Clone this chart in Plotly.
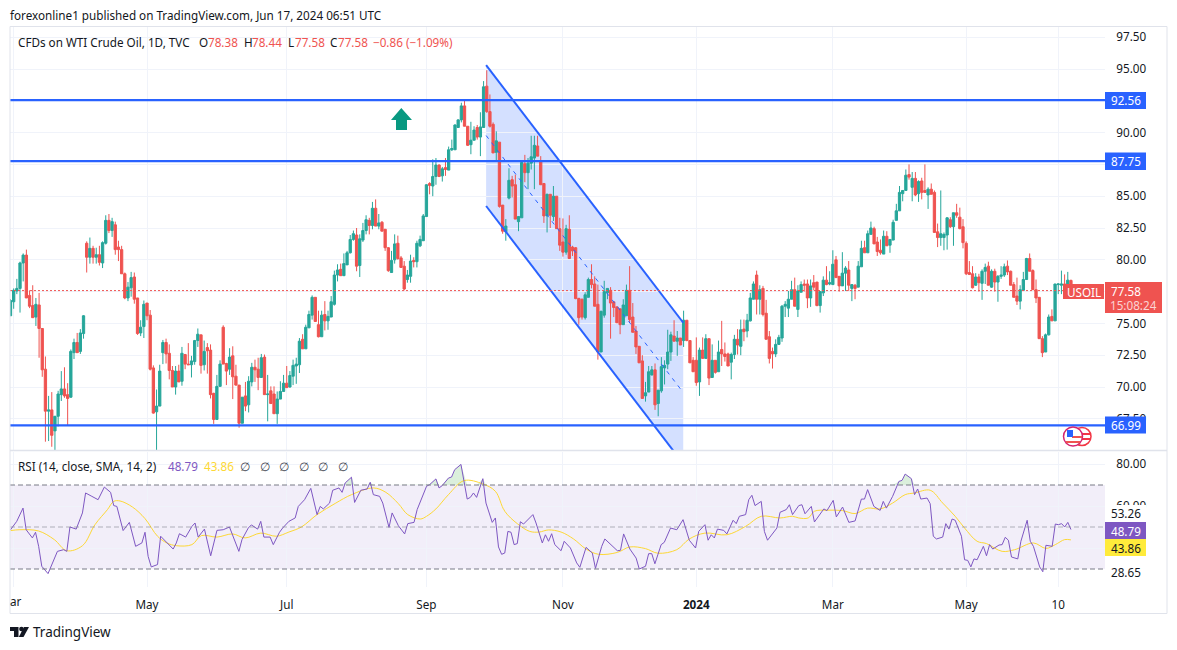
"""USOIL daily candles with channel drawing and RSI pane, TradingView look."""
import plotly.graph_objects as go
from plotly.subplots import make_subplots

W, H = 1177, 650
FONT = "Noto Sans"
INK = "#131722"
RED = "#ef5350"
GREEN = "#26a69a"
BLUE = "#2962ff"
PURPLE = "#7e57c2"
YELLOW = "#ffeb3b"
GRID = "#f0f3fa"
BORDER = "#e0e3eb"

opens = [
    75.6,76.7,77.55,77.75,79.75,80.37,77.2,76.4,75.5,76.45,
    74.6,71.4,68.1,68.2,66.55,67.7,69.4,69.85,69.4,69.2,
    72.7,73.5,72.8,74.2,81.3,80.2,80.9,80.2,80.4,79.75,
    81.3,83.1,82.3,82.75,81,80.8,78.9,77,77.8,78.65,
    77,74.25,74.75,76.6,75.65,71.5,68.05,68.5,72.7,73.5,
    72.65,71.3,70,71.25,70.45,72.55,71.8,71.75,72,73.65,
    74.1,71.75,73.1,72.9,69.5,67.45,70.05,74.7,71.85,71.4,
    72.45,70.85,70.15,67.15,69.3,68.6,70.4,71.55,71.4,70.75,
    72.35,69.4,69.7,69.45,67.9,69.05,69.65,70.3,70,70.85,
    71.65,71.75,73.75,73,74.65,75.65,77.05,74.9,73.95,75.7,
    75.2,75.5,76.5,78.8,79.25,78.75,79.6,80.55,81.6,81.95,
    79.55,81.55,82.3,83.1,82.7,84.05,82.65,82.95,82.4,80.95,
    79,80,81.3,80.15,79.5,78.45,78.7,79.95,79.85,81.1,
    81.5,83.4,86,85.8,86.55,87.45,86.6,87.25,87.05,88.65,
    88.65,90.4,91,92.1,90.5,89.05,89.4,90.4,89.65,90.4,
    93.65,91.65,90.65,88.45,89.25,84.3,82.2,84.85,86.3,85.9,
    83,83.3,87.55,86.85,87.6,88,88.95,87.8,86,83.45,
    85.15,83.4,85,82.45,81.4,80.6,82.4,81,80.95,76.97,
    76.9,75.45,77.05,78.45,78.1,76.5,72.75,75.65,77.4,77.6,
    76.7,76.3,76.15,74.9,75.6,77.6,75.5,74.4,73.2,72.05,
    69.3,69.6,70.95,71.35,68.7,69.7,71.5,71.8,72.75,74,
    73.6,73.85,73.65,75.25,73.65,72.1,72.1,70.4,72.9,72.25,
    73.8,70.75,72.1,71.2,72.95,72.6,72.6,71.95,72.55,73.75,
    73.2,74.55,74.4,75.2,76.9,78.8,76.9,77.75,75.8,73.95,
    72.8,72.6,73.35,73.85,76.35,76.2,76.9,77.65,76.1,77.45,
    78.1,78.1,77,78.2,78.25,76.4,77.4,78.4,78.1,78.05,
    80,78.7,77.95,78.95,79.2,77.75,78,77.85,79.45,80.95,
    80.55,82,82.45,81.4,80.75,80.45,81.85,81.15,81.55,83.1,
    83.85,85.2,85.45,86.7,85.7,86.4,85.2,86.2,85.45,85.1,
    85.55,85.3,82.2,81.75,81.75,81.95,83.15,82.6,83.7,83.35,
    82.6,81.3,79,78.9,78,78.65,78.15,79.1,79.5,77.85,
    79.1,78.25,78.7,78.8,79.5,79.1,78.05,77.15,76.75,77.6,
    78.45,80.1,79.15,77.65,77.05,73.8,72.75,74.1,75.55,75.2,
    78.05,78,78.1,78,78.38,
]
highs = [
    76.9,77.75,78.5,79.85,80.5,80.8,77.6,78,77,77.4,
    74.6,72.4,69.3,69.6,67.7,69.7,71.25,71.55,70.3,72.95,
    73.8,74.25,74.55,75.65,81.45,81.75,81.1,80.95,81.1,81.45,
    83.5,83.6,83.3,83,81.5,81.1,79,78.25,79.05,79,
    77,75.25,76.8,76.6,76.05,71.7,69.8,71.75,73.7,73.8,
    73.35,71.65,71.65,71.75,73.15,72.6,73.45,72.45,73.7,74.6,
    74.1,73.65,73.45,73.35,69.55,70.95,72.1,74.85,71.9,73.05,
    73.2,71.75,70.15,69.2,70.4,70.85,71.9,72.15,72.3,72.6,
    72.55,70.95,70.05,70.05,69.65,70.45,70.95,71.65,71.25,72.15,
    72.3,73.85,74.15,74.9,76,77.2,77.05,76,76,76.75,
    76,77.15,79.15,79.65,79.7,80.5,80.7,81.95,82.3,82.5,
    82,82.9,83.5,83.3,84.55,84.75,83.6,83.05,82.4,81,
    80.7,82,81.9,80.3,79.9,79.2,80.4,80.2,81.5,81.9,
    83.6,85.95,86.1,87.9,88,87.5,87.3,88,88.9,89.45,
    90.65,91.05,92.35,92.55,90.5,90.85,90.5,90.6,91.6,94.05,
    94.9,93,90.8,90.1,89.25,84.3,83.2,87.2,86.6,86.7,
    83.4,87.7,88.25,88,89.75,89.75,89.75,88.15,86,85.2,
    85.15,85.8,85,83.3,83.25,82.75,83.5,81.1,81,77,
    76.95,77.45,78.6,79.65,78.7,78.05,76,78.35,77.75,77.85,
    76.7,76.3,76.15,76.9,78.05,79.5,76.6,74.8,73.2,72.5,
    70.4,71.65,71.65,71.85,69.75,72.35,72.1,74.5,74.35,75.25,
    74.4,73.85,76,75.25,73.65,72.35,73.9,73.1,73.9,74.15,
    73.8,73.35,72.1,73.65,75.2,73.5,72.7,72.7,74.1,74.55,
    75.3,75.3,75.75,77.4,78.3,79.15,78,77.95,76.85,74.4,
    73.1,73.75,74.1,76.45,76.75,77.55,78.35,78.6,78,78.3,
    78.45,78.45,78.45,78.8,78.25,77.5,78.7,79.5,79.1,80.75,
    80.3,78.7,80.6,79.5,79.9,78.05,78.1,79.9,81.5,81.5,
    82.3,83,82.6,81.8,81.6,82.3,82.25,81.6,83.15,84.4,
    85.8,85.45,87.1,87.5,86.9,86.9,86.25,86.45,87.5,85.7,
    86,85.45,82.85,85.45,82.15,83.35,83.35,83.7,84.4,84.1,
    83.2,81.45,79.9,79.5,78.95,78.9,79.25,79.7,79.85,79.25,
    79.3,78.8,79.5,79.7,79.95,79.15,78.25,78.6,78,79.05,
    80.15,80.5,79.25,78.45,77.05,74,74.2,75.7,76.1,78.1,
    78.15,79.15,78.85,79.05,78.44,
]
lows = [
    75.6,76.15,77.3,75.85,78.3,77,76.2,75.45,74.8,72.3,
    70.8,65.7,65.75,65.3,65,66.9,68.9,69.15,66.95,69.15,
    72.2,72.7,72.6,73.8,79,79.7,79.7,79.7,79.55,79.35,
    81.2,82.1,81.8,80.4,79.9,78.9,76.9,76.75,77.1,76.55,
    74.1,74,73.85,75.25,71.3,67.9,65,68.5,71.8,71.85,
    70.6,70,69.4,70.4,70.1,71.4,71.75,70.75,71.75,73.15,
    71.05,71.3,71.05,69.1,67.1,67.45,70.05,71.8,70.15,70.95,
    69.05,70.1,66.8,67.15,68.1,68,70.05,70.4,69.75,70.75,
    69.4,67.3,68.7,67.9,67.1,69.05,69.65,69.95,69.95,70.15,
    70.25,71.1,73,73,74.65,75.3,75.15,73.9,73.95,74.45,
    74.5,75.5,76.4,78.3,78.75,78.75,79.6,80.5,81.5,79.1,
    78.65,81.4,82,82,82.4,82.65,82.4,82.25,80.7,79.05,
    79,79.7,80,79.4,77.6,78.2,78.2,79.4,79.4,81,
    81.5,83.4,85.15,85,85.9,86.5,86.15,86.6,87.05,88.55,
    88.65,90.4,90.8,90.5,88.95,88.3,89.4,89.45,88.15,90.4,
    91.55,90.4,88.4,87.75,84.1,82.05,81.5,84.75,84.9,83.2,
    82.25,83.3,86.1,85.55,87.1,85.55,88.15,85.9,82.9,82.15,
    82.5,83.05,82.45,80.7,80.25,80.4,80.1,80.3,76.9,74.9,
    75.3,75.3,77.05,77.75,76.35,72.15,72.75,75.45,76.9,73.8,
    75.5,75.05,74.15,74.9,75.6,75.05,74.3,72.6,71.9,69.1,
    68.85,69.6,70.9,68.2,67.7,69.55,70.2,71.4,72.05,73.6,
    72.45,73.3,73.15,73.6,71.9,71.2,70.1,69.3,72.25,72.25,
    70.15,70.75,71.05,71.2,71.65,72,71.65,70.6,72.2,72.55,
    72.5,73.6,73.9,75.15,76.9,75.7,75.7,75.55,73.75,71.85,
    71.45,72.35,73.3,73.55,75.5,75.5,76.9,76.35,75.5,77.45,
    77.5,76.2,76.3,77.6,76.35,75.85,77.15,78,78,78.05,
    78.6,77.5,77.95,77.55,77.55,76.75,76.9,77.85,79.45,80.55,
    80.55,82,81.25,80.3,80.4,80.45,81.1,80.55,81.55,83.1,
    83.85,84.6,85.45,86.3,84.6,85,84.55,84.75,85.3,84,
    85.15,82.15,81,81.1,80.75,80.8,82.5,81.1,83.3,82.4,
    80.9,78.8,78.8,77.75,77.95,77.5,76.85,78.1,78,77.8,
    77.5,76.7,78.5,78.65,78.8,78,77.05,76.45,76.1,77.6,
    78.45,79.1,77.65,76.6,73.8,72.35,72.75,74.05,75.2,75.2,
    77.3,77.3,77.9,77.95,77.58,
]
closes = [
    76.8,77.6,77.75,79.75,80.37,77,76.35,75.45,76.5,74.6,
    71.35,68.1,68.2,66.2,67.7,69.45,69.85,69.3,69.1,72.8,
    73.5,72.7,74.25,75.6,80.2,80.9,80.2,80.4,79.8,81.35,
    83.1,82.3,83,80.8,80.8,78.9,77,77.85,78.6,76.9,
    74.2,74.7,76.5,75.6,71.4,67.95,68.5,71.25,73.5,72.6,
    71.3,70,71.25,70.4,72.65,71.8,71.75,72.05,73.65,74.15,
    71.7,72.8,72.85,69.4,67.45,70.05,71.8,71.8,71.25,72.35,
    70.8,70.15,67.15,69.2,68.5,70.45,71.55,71.35,70.75,72.3,
    69.4,69.45,68.7,67.9,69.05,69.65,70.3,69.95,70.9,71.7,
    71.8,73.6,73,74.7,75.7,77.05,75.15,73.95,75.65,75.2,
    75.55,76.7,78.8,79.2,78.75,79.7,80.55,81.6,82.05,79.5,
    81.65,82.3,83.15,82.7,84.05,82.65,82.9,82.25,80.95,79.15,
    79.95,81.25,80.1,79.4,77.7,78.8,79.9,79.85,81.3,81.6,
    83.45,85.9,85.85,86.55,87.45,86.55,87.15,87.1,88.65,88.75,
    90.6,91,92.1,90.5,89,89.4,90.2,89.65,90.45,93.6,
    91.65,90.5,88.4,89.35,84.2,82.25,82.65,86.25,85.8,83.2,
    83.4,87.65,86.85,87.6,88.1,89,88.15,85.9,83.45,85.15,
    83.5,85,82.45,81.15,80.6,82.45,80.1,80.7,76.95,75.45,
    75.5,77.25,78.45,78.05,76.35,72.75,75.95,77.5,77.75,76.6,
    76.25,75.05,74.9,76.45,77.6,75.3,74.3,73.15,71.9,69.1,
    69.55,71.2,71.35,68.6,69.75,71.6,71.7,72.75,74.1,73.6,
    73.85,73.3,75.25,73.65,71.9,71.2,70.35,72.9,72.25,73.8,
    70.7,72.1,71.15,72.75,72.6,72.4,71.65,72.55,73.75,73.3,
    74.5,74.35,75.25,77,78.1,76.9,77.65,75.7,73.75,72.25,
    72.6,73.35,73.9,76.35,76.5,76.9,77.65,76.35,77.55,78.05,
    78,77,77.95,77.85,76.4,77.5,78.4,78.05,78.2,79.65,
    78.6,77.95,78.95,79.35,78,78.05,77.75,79.5,80.9,80.55,
    82.05,82.5,81.25,80.65,80.55,81.85,81.1,81.6,82.95,83.85,
    85.3,85.45,86.65,86.5,86.4,85.1,86.15,85.3,85.3,85.55,
    85.15,82.15,81.75,82.05,82,83.3,82.6,83.7,83.5,82.45,
    81.35,78.9,78.85,77.8,78.65,78.2,79.1,79.4,78,79.1,
    78.25,78.7,78.8,79.45,79.05,78,77.05,76.75,77.65,78.45,
    80.1,79.1,77.65,77,73.8,72.7,74.1,75.5,75.2,78.1,
    78.1,78.1,78,78.4,77.58,
]

rsi_pos = [
    0,2,4,5,7,8,9,10,12,15,17,18,19,21,23,24,26,28,30,32,33,34,36,38,40,42,43,44,45,47,
    48,50,52,53,54,56,58,59,60,62,64,66,68,70,71,73,74,76,77,79,80,81,83,84,86,87,89,91,92,94,
    96,98,99,100,102,103,105,106,107,109,110,112,114,115,116,118,119,121,122,124,126,127,129,130,133,134,136,137,138,140,
    141,142,144,146,147,148,149,151,152,154,155,156,157,158,159,160,161,162,163,164,167,168,170,171,172,173,174,176,177,179,
    181,182,184,186,187,189,190,192,194,195,196,198,200,201,203,204,205,206,208,209,211,213,215,217,219,220,222,223,224,225,
    226,228,229,231,232,233,235,236,237,238,240,241,242,245,246,248,249,250,252,253,254,256,257,260,261,263,264,266,268,270,
    272,273,274,276,278,279,280,282,284,285,286,288,289,290,291,293,294,295,296,298,299,300,301,302,304,305,306,307,308,309,
    311,312,313,314,316,317,318,319,320,322,323,325,326,327,329,330,331,333,334,335,336,337,338,339,
]
rsi_values = [
    48.7,52.7,59.0,48.7,44.8,47.5,40.8,31.3,27.8,38.4,39.2,38.4,50,49,56.7,66.2,64.6,63,69,66.5,60.2,59.8,48.3,52.2,40.8,42.4,47.5,36,31,32.1,
    45.6,42.4,39.5,42.4,46.8,45.2,50.3,51.9,45.2,49,36.3,48.4,48.7,50,46.3,38.4,44,49.5,51,49,52.7,45.2,45.2,41.6,47.5,49.5,52.7,54.3,59.8,63,
    68.4,55.9,59.8,58.6,61.4,67.5,68.6,66.5,71,73.7,61.7,67.5,68.1,71.3,65.4,64.6,61.4,49.8,56.7,50.6,46.7,51.6,52.2,58.3,69.4,70.2,72.9,68.6,69.7,73.3,
    73.8,77.3,79.8,63.3,64.1,66.2,64.1,73,61.4,52.2,54.3,40.5,37,37.6,47.9,47.5,41.6,42.1,52.5,51.4,55.9,51.9,42.4,46.3,43.2,46.8,41.6,38.7,43.2,40,
    32.9,30.8,40.3,37.6,30.3,40.8,44.3,41.6,38.7,38.9,46.7,39.5,35.2,30,31.3,37.3,37.3,32.5,41.6,42.7,49.5,48.7,53.5,43.7,40,47.9,51.1,43.7,46.3,44.8,
    49,48.4,46.7,53.2,51.6,55.1,55.9,63,65.1,60.2,62.2,47.9,43.7,49.5,57,58.3,60.6,55.9,60.2,60.6,56.3,59.8,52.4,58.6,57.8,62.7,54.8,59.5,52.2,52.9,
    63.3,63.3,67.8,59.8,57.9,62.2,59,64.6,71.7,72.2,75.2,73,65.4,68.1,63.3,63.8,61.1,45.6,44.3,45.2,51.6,49,53.8,53.2,45.6,34.4,34.1,31,34.8,34.4,
    40.8,36.3,41.6,39.5,41.4,41.6,45.1,43.7,35.7,34.8,43.2,53.2,43.2,40.8,31,28.7,41.3,40.8,51.4,51.1,51.6,50,52.2,48.79,
]
sma_pos = [
    0,3,9,14,18,23,27,31,33,35,39,43,47,50,53,58,61,66,71,75,80,85,89,93,98,104,109,116,120,124,
    127,131,133,136,140,145,151,155,158,162,166,169,172,176,180,184,188,194,198,203,207,213,217,222,229,235,240,246,250,
    252,255,257,261,266,270,274,278,282,286,289,294,298,302,305,309,312,317,321,327,331,334,337,339,
]
sma_values = [
    48.3,48.7,48.1,44,38.7,41.1,51.1,58.3,62.2,62.4,59.5,54,45.6,42.4,41.1,41.6,45.9,45.2,46.7,44.8,47.1,45.6,47.6,50,55.9,61.4,65.4,68.6,66.5,61.1,
    55.9,53.8,55.1,58.6,65.4,72.1,70.5,67,57.5,51.6,47.9,47.6,48.6,47.6,44.3,39.5,37,37.9,40.5,39.7,37.5,39.2,44.3,47.1,46.3,50.3,55.1,54.3,55.1,
    54.3,54.3,57.5,58,57.8,56.4,59,58.6,61.4,65.4,66.2,67.5,61.4,55.1,49.5,43.2,42.1,38.4,39.2,42.4,39.8,41.6,44,43.86,
]

tick_bars = [1, 43, 87, 131, 174, 216, 259, 301, 330]
tick_labels = ["", "May", "Jul", "Sep", "Nov", "<b>2024</b>", "Mar", "May", "10"]
price_ticks = [67.5, 70, 72.5, 75, 77.5, 80, 82.5, 85, 87.5, 90, 92.5, 95, 97.5]
# grid stays at every tick; these labels sit behind the price boxes in the reference
price_tick_text = ["67.50", "70.00", "72.50", "75.00", "", "80.00", "82.50", "85.00", "", "90.00", "", "95.00", "97.50"]
rsi_ticks = [80, 60, 40]
rsi_tick_text = ["80.00", "60.00", ""]
levels = [92.56, 87.75, 66.99]
last_price = 77.58

# channel drawing: left and right bar, then price at both ends
channel_bars = [149.8, 211.9]
channel_top = [95.31, 75.05]
channel_mid = [89.77, 69.56]
channel_bot = [84.23, 63.97]

# pane geometry in page pixels
LEFT, RIGHT = 10.0, 1105.0
PANE_TOP, PANE_MID, PANE_BOT = 26.5, 450.5, 587.0
BAR0, PITCH = 10.5, 3.175


def fx(px):
    return px / W


def fy(py):
    return 1 - py / H


def rect(x0, y0, x1, y1, fill, line=None):
    return dict(type="rect", xref="paper", yref="paper", x0=fx(x0), x1=fx(x1), y0=fy(y0), y1=fy(y1),
                fillcolor=fill, line=dict(width=1 if line else 0, color=line or fill), layer="above")


def poly(points, fill):
    path = "M" + " L".join(f"{fx(a):.5f},{fy(b):.5f}" for a, b in points) + " Z"
    return dict(type="path", xref="paper", yref="paper", path=path, fillcolor=fill, line=dict(width=0), layer="above")


def circle(cx, cy, r, fill, line):
    return dict(type="circle", xref="paper", yref="paper", x0=fx(cx - r), x1=fx(cx + r), y0=fy(cy + r), y1=fy(cy - r),
                fillcolor=fill, line=dict(width=1.5, color=line), layer="above")


def label(x, y, text, color=INK, size=11.7, anchor="left"):
    return dict(xref="paper", yref="paper", x=fx(x), y=fy(y), text=text, showarrow=False, xanchor=anchor,
                yanchor="middle", font=dict(family=FONT, size=size, color=color), borderpad=0, borderwidth=0)


n = len(closes)
bars = list(range(n))
rsi_x = [p * (n - 1) / rsi_pos[-1] for p in rsi_pos]
sma_x = [p * (n - 1) / sma_pos[-1] for p in sma_pos]
x_range = [(LEFT - BAR0) / PITCH, (RIGHT - BAR0) / PITCH]

fig = make_subplots(rows=2, cols=1, shared_xaxes=True)

fig.add_trace(go.Candlestick(
    x=bars, open=opens, high=highs, low=lows, close=closes,
    increasing=dict(line=dict(color=GREEN, width=1), fillcolor=GREEN),
    decreasing=dict(line=dict(color=RED, width=1), fillcolor=RED),
    whiskerwidth=0, hoverinfo="skip",
), row=1, col=1)

# channel edges and dashed centre line; the fill is a shape so it stays under the candles
for edge in (channel_top, channel_bot):
    fig.add_trace(go.Scatter(x=channel_bars, y=edge, mode="lines", line=dict(color=BLUE, width=2)), row=1, col=1)
fig.add_trace(go.Scatter(x=channel_bars, y=channel_mid, mode="lines",
                         line=dict(color=BLUE, width=1, dash="4px,5px")), row=1, col=1)

for level in levels:
    fig.add_trace(go.Scatter(x=x_range, y=[level, level], mode="lines", line=dict(color=BLUE, width=2.2)), row=1, col=1)
fig.add_trace(go.Scatter(x=x_range, y=[last_price, last_price], mode="lines",
                         line=dict(color=RED, width=1, dash="2px,2px")), row=1, col=1)

# RSI pane
fig.add_trace(go.Scatter(x=rsi_x, y=[70] * len(rsi_x), mode="lines", line=dict(width=0)), row=2, col=1)
fig.add_trace(go.Scatter(x=rsi_x, y=[max(v, 70) for v in rsi_values], mode="lines", line=dict(width=0),
                         fill="tonexty", fillcolor="rgba(76,175,80,0.2)"), row=2, col=1)
fig.add_trace(go.Scatter(x=sma_x, y=sma_values, mode="lines", line=dict(color="#fdd835", width=1, shape="spline")),
              row=2, col=1)
fig.add_trace(go.Scatter(x=rsi_x, y=rsi_values, mode="lines", line=dict(color=PURPLE, width=1)), row=2, col=1)

fig.update_xaxes(range=x_range, tickmode="array", tickvals=tick_bars, ticktext=tick_labels, showgrid=True,
                 gridcolor=GRID, gridwidth=1, zeroline=False, showline=False, rangeslider_visible=False,
                 domain=[fx(LEFT), fx(RIGHT)], ticks="outside", ticklen=7, tickcolor="rgba(0,0,0,0)",
                 tickfont=dict(family=FONT, size=11.7, color=INK), tickangle=0)
fig.update_xaxes(showticklabels=False, ticks="", row=1, col=1)

axis_common = dict(side="right", showgrid=True, gridcolor=GRID, gridwidth=1, zeroline=False, showline=False,
                   ticks="outside", ticklen=8, tickcolor="rgba(0,0,0,0)", tickmode="array",
                   tickfont=dict(family=FONT, size=11.7, color=INK))
price_scale = 12.72
fig.update_yaxes(range=[95 - (PANE_MID - 69) / price_scale, 95 - (PANE_TOP - 69) / price_scale],
                 tickvals=price_ticks, ticktext=price_tick_text, domain=[fy(PANE_MID), fy(PANE_TOP)],
                 row=1, col=1, **axis_common)
rsi_scale = 2.1
fig.update_yaxes(range=[50 - (PANE_BOT - 527) / rsi_scale, 50 - (PANE_MID + 1 - 527) / rsi_scale],
                 tickvals=rsi_ticks, ticktext=rsi_tick_text, domain=[fy(PANE_BOT), fy(PANE_MID + 1)],
                 row=2, col=1, **axis_common)

channel_path = (f"M{channel_bars[0]},{channel_top[0]} L{channel_bars[1]},{channel_top[1]} "
                f"L{channel_bars[1]},{channel_bot[1]} L{channel_bars[0]},{channel_bot[0]} Z")

shapes = [
    dict(type="path", xref="x", yref="y", path=channel_path, fillcolor="rgba(41,98,255,0.2)",
         line=dict(width=0), layer="below"),
    # RSI band and its dashed levels
    dict(type="rect", xref="x2 domain", yref="y2", x0=0, x1=1, y0=30, y1=70, fillcolor="rgba(126,87,194,0.1)",
         line=dict(width=0), layer="below"),
    dict(type="line", xref="x2 domain", yref="y2", x0=0, x1=1, y0=70, y1=70, line=dict(color="#787b86", width=1, dash="5px,3px")),
    dict(type="line", xref="x2 domain", yref="y2", x0=0, x1=1, y0=50, y1=50,
         line=dict(color="rgba(120,123,134,0.55)", width=1, dash="5px,3px")),
    dict(type="line", xref="x2 domain", yref="y2", x0=0, x1=1, y0=30, y1=30, line=dict(color="#787b86", width=1, dash="5px,3px")),
    # frame and pane separator
    dict(type="rect", xref="paper", yref="paper", x0=fx(10), x1=fx(1167), y0=fy(613.5), y1=fy(26.5),
         line=dict(color=BORDER, width=1), layer="above"),
    dict(type="line", xref="paper", yref="paper", x0=fx(10), x1=fx(1167), y0=fy(450.5), y1=fy(450.5),
         line=dict(color=BORDER, width=1.5), layer="above"),
    # arrow drawing
    poly([(401.3, 108), (412, 120), (407, 120), (407, 130), (396, 130), (396, 120), (391, 120)], "#089981"),
    # price axis boxes
    rect(1105, 92, 1146, 109, BLUE),
    rect(1105, 152.5, 1146, 170, BLUE),
    rect(1105, 416.5, 1146, 433.5, BLUE),
    rect(1105, 282, 1162, 313, RED),
    rect(1063, 284, 1104, 299, RED),
    # RSI axis boxes
    rect(1106, 505, 1146, 521, "white"),
    rect(1105, 522, 1146, 539, PURPLE),
    rect(1105, 539, 1146, 556, YELLOW),
    # economic event flags
    circle(1082, 436.5, 9, "white", "#f23645"),
    rect(1075, 433, 1090, 435, "#f23645"),
    rect(1075, 438, 1090, 440, "#f23645"),
    circle(1073, 436.5, 9.5, "white", "#d6246e"),
    rect(1066, 441, 1080, 443, RED),
    rect(1072, 436, 1082, 438, RED),
    rect(1067, 430, 1073, 437, "#2962ff"),
    # TradingView mark
    poly([(10, 627), (18.5, 627), (18.5, 637), (14, 637), (14, 631), (10, 631)], INK),
    circle(21.5, 629, 1.6, INK, INK),
    poly([(24, 627), (29, 627), (23.5, 637), (18.8, 637)], INK),
]

annotations = [
    label(10, 15, "forexonline1 published on TradingView.com, Jun 17, 2024 06:51 UTC"),
    label(18, 42, "CFDs on WTI Crude Oil, 1D, TVC"),
    label(199, 42, "O"), label(208, 42, "78.38", RED),
    label(244, 42, "H"), label(252, 42, "78.44", RED),
    label(288, 42, "L"), label(295, 42, "77.58", RED),
    label(330, 42, "C"), label(338, 42, "77.58", RED),
    label(373, 42, "−0.86 (−1.09%)", RED),
    label(18, 466, "RSI (14, close, SMA, 14, 2)"),
    label(168, 466, "48.79", PURPLE),
    label(204, 466, "43.86", "#fdd835"),
    label(10, 601, "ar"),
    label(33, 632, "TradingView", size=13.5),
    label(1125.5, 100.5, "92.56", "white", anchor="center"),
    label(1125.5, 161, "87.75", "white", anchor="center"),
    label(1125.5, 425, "66.99", "white", anchor="center"),
    label(1125.5, 291, "77.58", "white", anchor="center"),
    label(1133.5, 305, "15:08:24", "rgba(255,255,255,0.75)", anchor="center"),
    label(1083.5, 291.5, "USOIL", "white", anchor="center"),
    label(1125.5, 513, "53.26", anchor="center"),
    label(1125.5, 530.5, "48.79", "white", anchor="center"),
    label(1125.5, 547.5, "43.86", anchor="center"),
    label(1125.5, 572, "28.65", anchor="center"),
]
annotations += [label(x, 466, "∅", "#434651", anchor="center") for x in (245, 265, 284, 304, 323, 343)]

fig.update_layout(
    width=W, height=H, margin=dict(l=0, r=0, t=0, b=0), autosize=False,
    paper_bgcolor="white", plot_bgcolor="white", showlegend=False, hovermode=False,
    boxgap=0.28, boxgroupgap=0, shapes=shapes, annotations=annotations,
    font=dict(family=FONT, size=12, color=INK),
)

fig.write_html("out.html", config={"displayModeBar": False}, post_script="document.body.style.margin='0';")
